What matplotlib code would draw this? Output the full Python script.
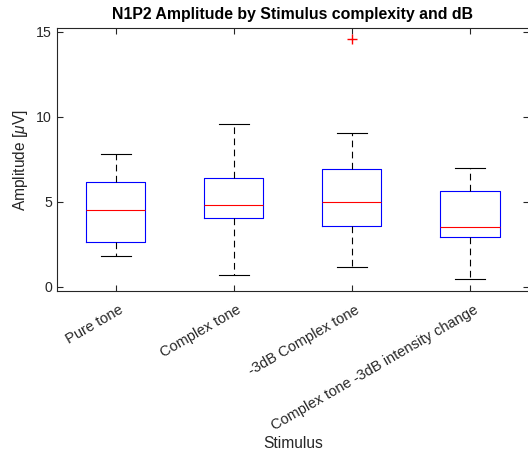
"""N1P2 amplitude boxplot by stimulus."""

import matplotlib
matplotlib.use("Agg")
import matplotlib.pyplot as plt
from matplotlib.transforms import ScaledTranslation


STIMULI = ["Pure tone", "Complex tone", "-3dB Complex tone", "Complex tone -3dB intensity change"]
WHISKER_LOW = [1.80, 0.69, 1.17, 0.43]
Q1 = [2.66, 4.04, 3.56, 2.95]
MEDIAN = [4.49, 4.79, 5.00, 3.54]
Q3 = [6.15, 6.41, 6.91, 5.63]
WHISKER_HIGH = [7.82, 9.59, 9.06, 6.99]
OUTLIERS = [[], [], [14.55], []]

DARK = "#262626"

plt.rcParams["font.family"] = ["Liberation Sans", "DejaVu Sans"]
plt.rcParams["mathtext.fontset"] = "custom"
plt.rcParams["mathtext.it"] = "Liberation Sans:italic"
plt.rcParams["mathtext.rm"] = "Liberation Sans"


def main():
    fig = plt.figure(figsize=(5.28, 4.55), dpi=100)
    ax = fig.add_axes([56.7 / 528, 1 - 291 / 455, 1.002 - 56.7 / 528, (291 - 28.4) / 455])

    stats = []
    for i, name in enumerate(STIMULI):
        stats.append({
            "label": name,
            "whislo": WHISKER_LOW[i],
            "q1": Q1[i],
            "med": MEDIAN[i],
            "q3": Q3[i],
            "whishi": WHISKER_HIGH[i],
            "fliers": OUTLIERS[i],
        })

    ax.bxp(
        stats,
        positions=[1, 2, 3, 4],
        widths=0.5,
        showfliers=True,
        boxprops=dict(color="blue", linewidth=0.8),
        medianprops=dict(color="red", linewidth=0.8),
        whiskerprops=dict(color="black", linestyle=(0, (6, 4)), linewidth=0.8),
        capprops=dict(color="black", linewidth=0.8),
        capwidths=0.25,
        flierprops=dict(marker="+", markeredgecolor="red", markersize=7, linestyle="none"),
    )

    ax.set_xlim(0.5, 4.5)
    ax.set_ylim(-0.25, 15.2)
    ax.set_yticks([0, 5, 10, 15])
    ax.set_xticks([1, 2, 3, 4])

    for spine in ax.spines.values():
        spine.set_color(DARK)
        spine.set_linewidth(0.8)
    ax.tick_params(direction="in", top=True, right=True, length=4, width=0.8,
                   colors=DARK, labelsize=10.2, labelcolor=DARK)

    ax.set_xticklabels(STIMULI, rotation=30, ha="right", rotation_mode="anchor", fontsize=10.5)
    # nudge the rotated labels like MATLAB places them
    shift = ScaledTranslation(3 / 100, -7 / 100, fig.dpi_scale_trans)
    for label in ax.get_xticklabels():
        label.set_transform(label.get_transform() + shift)

    ax.set_title("N1P2 Amplitude by Stimulus complexity and dB", fontsize=11.4,
                 fontweight="bold", color="black", pad=7)
    ax.set_ylabel(r"Amplitude [$\mu$V]", fontsize=11.2, color=DARK)
    ax.set_xlabel("Stimulus", fontsize=11.2, color=DARK, labelpad=2)

    fig.savefig("out.png", dpi=100)
    plt.close(fig)


if __name__ == "__main__":
    main()
